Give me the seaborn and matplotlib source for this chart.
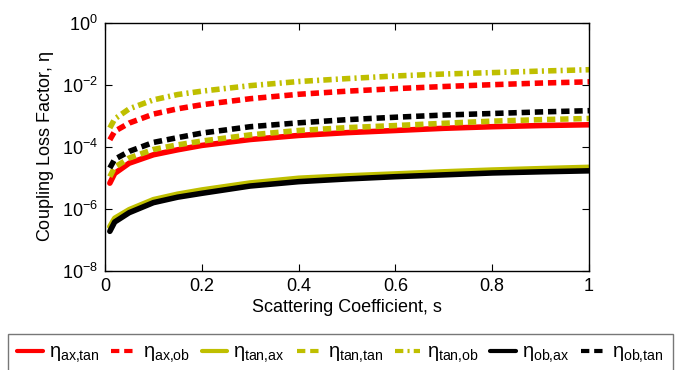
import numpy as np
import pandas as pd
import matplotlib
matplotlib.use('Agg')
import matplotlib.pyplot as plt
import seaborn as sns

# scattering coefficient
s = [0.01, 0.02, 0.05, 0.1, 0.15, 0.2, 0.3, 0.4, 0.5, 0.6, 0.7, 0.8, 0.9, 1.0]

# coupling loss factors
eta_ax_tan = [6.8e-6, 1.4e-5, 3.0e-5, 5.6e-5, 8.1e-5, 1.12e-4, 1.74e-4, 2.35e-4, 2.9e-4, 3.4e-4, 4.0e-4, 4.5e-4, 4.9e-4, 5.2e-4]
eta_ax_ob = [1.7e-4, 3.2e-4, 5.9e-4, 1.15e-3, 1.7e-3, 2.3e-3, 3.6e-3, 5.0e-3, 6.3e-3, 7.6e-3, 8.9e-3, 1.02e-2, 1.15e-2, 1.26e-2]
eta_tan_ax = [2.7e-7, 5.0e-7, 9.5e-7, 2.0e-6, 3.0e-6, 4.1e-6, 6.9e-6, 9.8e-6, 1.17e-5, 1.35e-5, 1.58e-5, 1.8e-5, 2.0e-5, 2.2e-5]
eta_tan_tan = [1.1e-5, 2.2e-5, 4.4e-5, 8.3e-5, 1.17e-4, 1.55e-4, 2.45e-4, 3.4e-4, 4.2e-4, 4.9e-4, 5.8e-4, 6.8e-4, 7.6e-4, 8.3e-4]
eta_tan_ob = [4.1e-4, 8.0e-4, 1.7e-3, 3.3e-3, 4.9e-3, 6.3e-3, 9.5e-3, 1.29e-2, 1.6e-2, 1.95e-2, 2.25e-2, 2.5e-2, 2.8e-2, 3.1e-2]
eta_ob_ax = [1.9e-7, 3.8e-7, 7.6e-7, 1.6e-6, 2.4e-6, 3.2e-6, 5.5e-6, 7.6e-6, 9.3e-6, 1.1e-5, 1.26e-5, 1.45e-5, 1.58e-5, 1.7e-5]
eta_ob_tan = [2.1e-5, 4.0e-5, 7.2e-5, 1.4e-4, 2.0e-4, 2.8e-4, 4.5e-4, 6.0e-4, 7.6e-4, 9.1e-4, 1.07e-3, 1.2e-3, 1.35e-3, 1.48e-3]

labels = [r'$\eta_{\mathrm{ax{,}tan}}$', r'$\eta_{\mathrm{ax{,}ob}}$', r'$\eta_{\mathrm{tan{,}ax}}$',
          r'$\eta_{\mathrm{tan{,}tan}}$', r'$\eta_{\mathrm{tan{,}ob}}$', r'$\eta_{\mathrm{ob{,}ax}}$',
          r'$\eta_{\mathrm{ob{,}tan}}$']
series = [eta_ax_tan, eta_ax_ob, eta_tan_ax, eta_tan_tan, eta_tan_ob, eta_ob_ax, eta_ob_tan]

red = '#ff0000'
olive = '#bfbf00'
colors = [red, red, olive, olive, olive, 'black', 'black']
solid = ''
dashed = (6, 3.5)
dashdot = (6, 3, 1.5, 3)
styles = [solid, dashed, solid, dashed, dashdot, solid, dashed]

sns.set_style('ticks')
plt.rcParams['font.family'] = ['Liberation Sans', 'DejaVu Sans']
plt.rcParams['mathtext.fontset'] = 'custom'
plt.rcParams['mathtext.rm'] = 'Liberation Sans'
plt.rcParams['mathtext.it'] = 'Liberation Sans'
plt.rcParams['lines.scale_dashes'] = False
plt.rcParams['text.color'] = 'black'
plt.rcParams['axes.labelcolor'] = 'black'
plt.rcParams['xtick.color'] = 'black'
plt.rcParams['ytick.color'] = 'black'

fig = plt.figure(figsize=(6.93, 3.70), dpi=100)
ax = fig.add_axes([0.1515, 0.2676, 0.6985, 0.6704])

rows = []
for lab, vals in zip(labels, series):
    for x, v in zip(s, vals):
        rows.append({'s': x, 'eta': v, 'curve': lab})
df = pd.DataFrame(rows)

sns.lineplot(data=df, x='s', y='eta', hue='curve', style='curve',
             palette=dict(zip(labels, colors)), dashes=dict(zip(labels, styles)),
             linewidth=4, ax=ax, legend=False)

ax.set_yscale('log')
ax.set_xlim(0, 1)
ax.set_ylim(1e-8, 1)
ax.set_yticks([1e-8, 1e-6, 1e-4, 1e-2, 1e0])
ax.set_yticklabels([r'$10^{-8}$', r'$10^{-6}$', r'$10^{-4}$', r'$10^{-2}$', r'$10^{0}$'])
ax.minorticks_off()
ax.set_xticks([0, 0.2, 0.4, 0.6, 0.8, 1])
ax.set_xticklabels(['0', '0.2', '0.4', '0.6', '0.8', '1'])
ax.tick_params(direction='in', top=True, right=True, labelsize=13, length=5, width=0.8, pad=5)
for sp in ax.spines.values():
    sp.set_linewidth(1.0)
    sp.set_color('black')
ax.set_xlabel('Scattering Coefficient, s', fontsize=13, labelpad=3)
ax.set_ylabel(r'Coupling Loss Factor, $\eta$', fontsize=13, labelpad=4)

handles = []
for c, st, lab in zip(colors, styles, labels):
    ls = '-' if st == '' else (0, st)
    h, = ax.plot([], [], color=c, linestyle=ls, linewidth=3, label=lab)
    handles.append(h)

leg = fig.legend(handles=handles, labels=labels, loc='lower left', bbox_to_anchor=(0.012, -0.012),
                 ncol=7, fontsize=14.5, frameon=True, fancybox=False, edgecolor='#555555',
                 handlelength=1.25, handletextpad=0.3, columnspacing=0.6, borderpad=0.45,
                 borderaxespad=0)
leg.get_frame().set_linewidth(1.0)

fig.savefig('out.png', dpi=100)
